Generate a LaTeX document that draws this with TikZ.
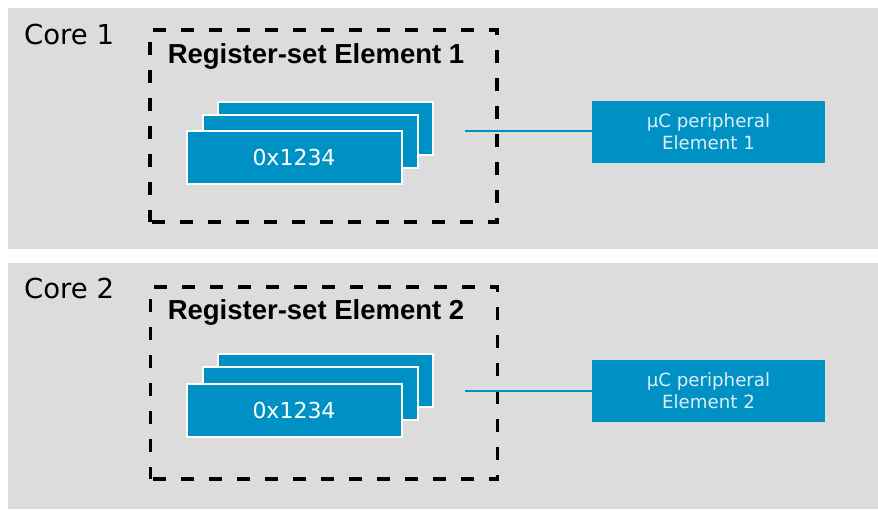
\documentclass[tikz,border=0pt]{standalone}
\usepackage{fontspec}
\setmainfont{DejaVu Sans}
\newfontfamily\titlefont{Liberation Sans}
\definecolor{panelgray}{RGB}{220,220,220}
\definecolor{regblue}{RGB}{0,145,196}
\definecolor{paleblue}{RGB}{222,238,246}
\usetikzlibrary{positioning}

\begin{document}
\begin{tikzpicture}[x=1pt, y=-1pt,
    panel/.style={fill=panelgray, draw=none},
    corelbl/.style={anchor=base west, inner sep=0pt, font=\fontsize{27.5}{32}\selectfont},
    regset/.style={draw, line width=3.6pt, dash pattern=on 13pt off 15pt, dash phase=-2pt, minimum width=347pt, minimum height=192pt, inner sep=0pt},
    settitle/.style={anchor=base, inner sep=0pt, font=\titlefont\bfseries\fontsize{27.5}{32}\selectfont},
    reg/.style={fill=regblue, draw=white, line width=2pt, minimum width=215pt, minimum height=53pt, inner sep=0pt, text=white, font=\fontsize{22}{26}\selectfont},
    periph/.style={fill=regblue, minimum width=233pt, minimum height=62pt, inner sep=0pt, align=center, text=paleblue, font=\fontsize{18.2}{22}\selectfont},
    bus/.style={draw=regblue, line width=1.5pt}]
				\useasboundingbox (0,0) rectangle (878,509);
				\fill[panel] (8,8) rectangle (878,249);
				\fill[panel] (8,263) rectangle (878,509);

				% core 1
				\node[corelbl]  (C1)  at (24,44)       {Core 1};
				\node[regset]   (RS1) at (323.5,126)   {};
				\node[settitle] (T1)  at (316,63)      {Register-set Element 1};
				\node[reg]      (R1c) at (325,128.5)   {};
				\node[reg]      (R1b) at (310,141.5)   {};
				\node[reg]      (R1a) at (294,157.5)   {0x1234};
				\node[periph]   (P1)  at (708.5,132)   {µC peripheral\\Element 1};
				\coordinate     (B1)  at (465,131);
				\path[bus] (B1) -- (B1 -| P1.west);

				% core 2
				\node[corelbl]  (C2)  at (24,298)      {Core 2};
				\node[regset]   (RS2) at (324,383)     {};
				\node[settitle] (T2)  at (316,319)     {Register-set Element 2};
				\node[reg]      (R2c) at (325,380.5)   {};
				\node[reg]      (R2b) at (310,393.5)   {};
				\node[reg]      (R2a) at (294,410)     {0x1234};
				\node[periph]   (P2)  at (708.5,390.5) {µC peripheral\\Element 2};
				\coordinate     (B2)  at (465,391);
				\path[bus] (B2) -- (B2 -| P2.west);
\end{tikzpicture}
\end{document}
